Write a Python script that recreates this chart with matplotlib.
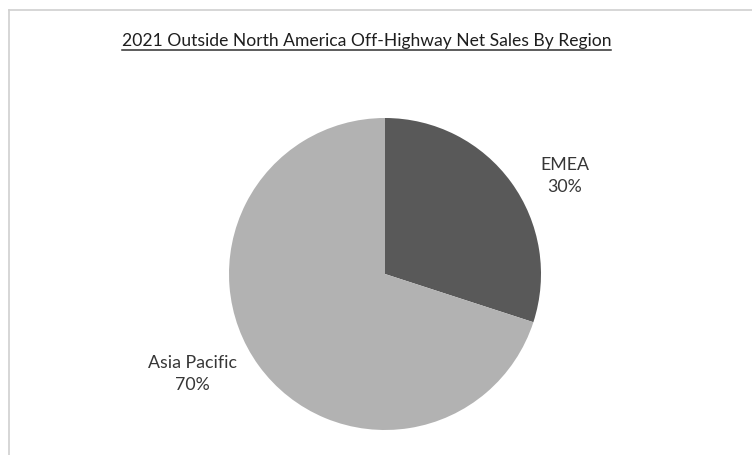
import matplotlib
matplotlib.use("Agg")
import matplotlib.pyplot as plt

# Data
regions = ["EMEA", "Asia Pacific"]
shares = [30, 70]
colors = ["#595959", "#b2b2b2"]
title = "2021 Outside North America Off-Highway Net Sales By Region"

# label centres in pie units (radius = 1)
label_pos = [(1.154, 0.635), (-1.237, -0.635)]

plt.rcParams['font.family'] = ['Lato', 'DejaVu Sans']

fig = plt.figure(figsize=(7.52, 4.56), dpi=100)
W, H = 752, 456

# pie centre (385, 275) from top-left, radius 156 px
cx, cy, r = 385, 275, 156
ax = fig.add_axes([(cx - r) / W, (H - cy - r) / H, 2 * r / W, 2 * r / H])
wedges, _ = ax.pie(shares, colors=colors, startangle=90, counterclock=False,
                   wedgeprops=dict(linewidth=0))
ax.set_xlim(-1, 1)
ax.set_ylim(-1, 1)
ax.set_aspect("equal")
ax.axis("off")

for (x, y), name, v in zip(label_pos, regions, shares):
    ax.text(x, y, f"{name}\n{v}%", ha="center", va="center", fontsize=12.8,
            color="#363636", linespacing=1.4)

# title with underline
t = fig.text(366.5 / W, 1 - 41 / H, title, ha="center", va="center",
             fontsize=12.6, color="#1e1e1e")
fig.canvas.draw()
bb = t.get_window_extent()
fig.add_artist(plt.Line2D([bb.x0 / W, bb.x1 / W], [1 - 51 / H, 1 - 51 / H],
                          color="#303030", linewidth=1.1))

# frame (top and left edges visible)
fig.add_artist(plt.Line2D([8.5 / W, 1], [1 - 10.5 / H, 1 - 10.5 / H],
                          color="#d0d0d0", linewidth=1.2))
fig.add_artist(plt.Line2D([8.5 / W, 8.5 / W], [0, 1 - 10.5 / H],
                          color="#d0d0d0", linewidth=1.2))

fig.savefig("out.png", dpi=100, facecolor="white")
